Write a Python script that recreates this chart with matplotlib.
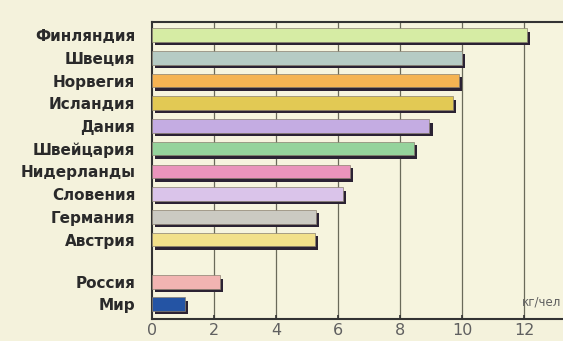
import matplotlib.pyplot as plt
import numpy as np

countries = ["Финляндия", "Швеция", "Норвегия", "Исландия", "Дания",
             "Швейцария", "Нидерланды", "Словения", "Германия", "Австрия",
             "Россия", "Мир"]
values = [12.1, 10.0, 9.9, 9.7, 8.95, 8.45, 6.4, 6.15, 5.3, 5.25, 2.2, 1.05]
colors = ["#d6eca4", "#b6cbc4", "#f5b352", "#e2c954", "#c4ace2", "#95d39c",
          "#ea94bc", "#dac4ea", "#cbcac2", "#f2e08a", "#f2b4b2", "#2454a4"]
ticks = [0, 2, 4, 6, 8, 10, 12]

# rows: ten countries, then a gap before Russia and the world
pos = np.array(list(range(10)) + [10.88, 11.85])

plt.rcParams['font.family'] = ['DejaVu Sans']

fig = plt.figure(figsize=(5.63, 3.41), dpi=100, facecolor="#f4f2dc")
ax = fig.add_axes([0.27, 0.0645, 0.73, 0.8705], facecolor="#f6f4de")

# shadow bars
ax.barh(pos + 0.15, values, left=0.1, height=0.6, color="#2b2233", zorder=2)
ax.barh(pos, values, height=0.6, color=colors, edgecolor="#8a8070",
        linewidth=0.5, zorder=3)

ax.set_xlim(0, 13.26)
ax.set_ylim(12.5, -0.57)
ax.set_yticks(pos)
ax.set_yticklabels(countries, fontsize=11, fontweight="bold", color="#2a2a2a")
ax.set_xticks(ticks)
ax.set_xticklabels([str(t) for t in ticks], fontsize=11.5, color="#606060")
ax.tick_params(axis="y", length=0, pad=12)
ax.tick_params(axis="x", direction="in", length=3, width=1.2, color="#333333", pad=3)
for t in ticks[1:]:
    ax.axvline(t, color="#6a6a5a", linewidth=0.9, zorder=1)

for side in ["left", "bottom", "top"]:
    ax.spines[side].set_color("#333333")
    ax.spines[side].set_linewidth(1.5)
ax.spines["right"].set_visible(False)

fig.text(0.997, 0.105, "кг/чел", fontsize=8.5, color="#606060", ha="right")

fig.savefig("out.png", dpi=100, facecolor=fig.get_facecolor())
